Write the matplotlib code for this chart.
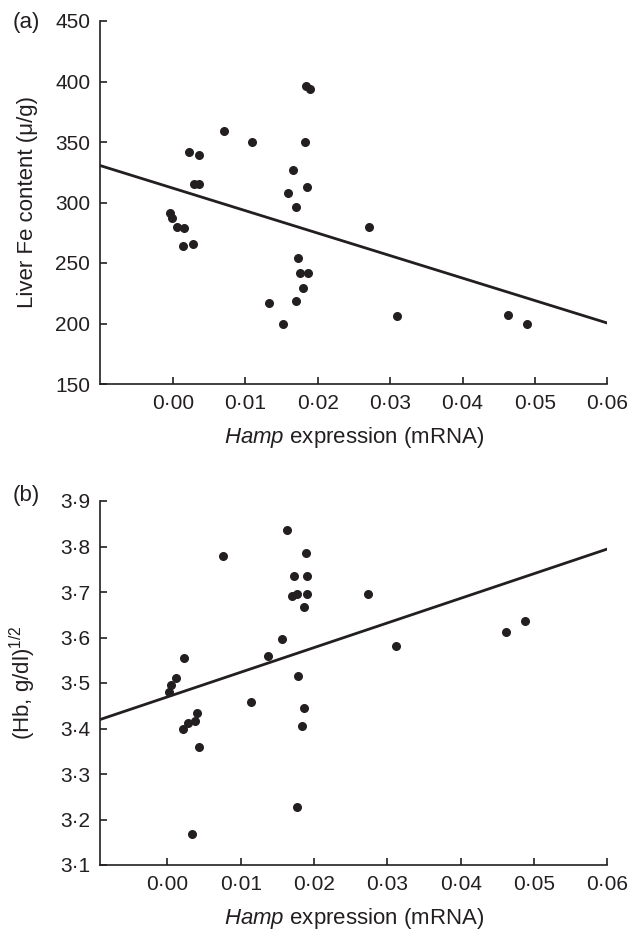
import numpy as np
import matplotlib
matplotlib.use("Agg")
import matplotlib.pyplot as plt
from matplotlib.ticker import FuncFormatter

plt.rcParams['font.family'] = ['Liberation Sans', 'DejaVu Sans']
plt.rcParams['mathtext.fontset'] = 'custom'
plt.rcParams['mathtext.rm'] = 'Liberation Sans'
plt.rcParams['mathtext.it'] = 'Liberation Sans:italic'

# ---------------------------------------------------------------------------
# Data
# ---------------------------------------------------------------------------
# (a) liver Fe content vs Hamp expression
hamp_a = [0.01842, 0.01897, 0.00698, 0.01095, 0.01819, 0.00214, 0.00357,
          0.01653, 0.00288, 0.00357, 0.01846, 0.01593, 0.01704, -0.00048,
          -0.00017, 0.00048, 0.00155, 0.02714, 0.00131, 0.00274, 0.01726,
          0.01750, 0.01864, 0.01791, 0.01699, 0.01325, 0.01524, 0.03091,
          0.04630, 0.04890]
liver_fe = [396, 394, 359, 350, 350, 342, 339, 327, 315, 315, 313, 308, 296,
            291, 287, 280, 279, 280, 264, 266, 254, 242, 242, 229, 219, 217,
            200, 206, 207, 200]
fit_a = (311.8, -1857.0)   # intercept, slope

# (b) sqrt(Hb) vs Hamp expression
hamp_b = [0.01637, 0.00764, 0.01892, 0.01733, 0.01906, 0.01697, 0.01765,
          0.01906, 0.02742, 0.01869, 0.01561, 0.03111, 0.00224, 0.01378,
          0.00123, 0.01787, 0.00055, 0.00019, 0.01146, 0.01861, 0.00409,
          0.00282, 0.00378, 0.00210, 0.01833, 0.00428, 0.01765, 0.00337,
          0.04617, 0.04876]
sqrt_hb = [3.836, 3.780, 3.786, 3.736, 3.736, 3.692, 3.696, 3.696, 3.696,
           3.666, 3.597, 3.581, 3.556, 3.559, 3.511, 3.516, 3.496, 3.480,
           3.459, 3.444, 3.433, 3.411, 3.416, 3.398, 3.405, 3.359, 3.228,
           3.168, 3.611, 3.636]
fit_b = (3.4695, 5.416)

x_ticks = [0.00, 0.01, 0.02, 0.03, 0.04, 0.05, 0.06]
y_ticks_a = [150, 200, 250, 300, 350, 400, 450]
y_ticks_b = [3.1, 3.2, 3.3, 3.4, 3.5, 3.6, 3.7, 3.8, 3.9]

TICK_FS = 15
LABEL_FS = 16
INK = "#231f20"
W, H = 640, 931


def dot_fmt(decimals):
    return FuncFormatter(lambda v, p: f"{v:.{decimals}f}".replace(".", "\u00b7"))


def style_axis(ax, xlim, ylim, yticks, ydec):
    for side in ("top", "right"):
        ax.spines[side].set_visible(False)
    for side in ("left", "bottom"):
        ax.spines[side].set_linewidth(1.2)
        ax.spines[side].set_color(INK)
    ax.set_xlim(*xlim)
    ax.set_ylim(*ylim)
    ax.set_xticks(x_ticks)
    ax.set_yticks(yticks)
    ax.xaxis.set_major_formatter(dot_fmt(2))
    ax.yaxis.set_major_formatter(dot_fmt(ydec))
    ax.tick_params(direction="in", length=5, width=1.2, colors=INK,
                   labelsize=TICK_FS, pad=7)
    ax.set_xlabel(r"$\it{Hamp}$ expression (mRNA)", fontsize=LABEL_FS,
                  color=INK, labelpad=9)


fig = plt.figure(figsize=(W / 100, H / 100), dpi=100)

# panel (a)
ax1 = fig.add_axes([100 / W, 1 - 384 / H, 507.3 / W, 363 / H])
style_axis(ax1, (-0.0101, 0.06), (150, 450), y_ticks_a, 0)
ax1.scatter(hamp_a, liver_fe, s=30, color=INK, zorder=3, clip_on=False)
xl = np.array(ax1.get_xlim())
ax1.plot(xl, fit_a[0] + fit_a[1] * xl, color=INK, lw=2.0)
ax1.set_ylabel("Liver Fe content (\u03bc/g)", fontsize=LABEL_FS, color=INK)
ax1.yaxis.set_label_coords(-0.122, 0.5)

# panel (b)
ax2 = fig.add_axes([100 / W, 1 - 865 / H, 507.3 / W, 364 / H])
style_axis(ax2, (-0.0092, 0.06), (3.1, 3.9), y_ticks_b, 1)
ax2.scatter(hamp_b, sqrt_hb, s=30, color=INK, zorder=3, clip_on=False)
xl = np.array(ax2.get_xlim())
ax2.plot(xl, fit_b[0] + fit_b[1] * xl, color=INK, lw=2.0)
ax2.set_ylabel(r"(Hb, g/dl)$^{1/2}$", fontsize=LABEL_FS, color=INK)
ax2.yaxis.set_label_coords(-0.122, 0.5)

fig.text(13 / W, 1 - 22.5 / H, "(a)", fontsize=LABEL_FS, color=INK,
         ha="left", va="center")
fig.text(13 / W, 1 - 496 / H, "(b)", fontsize=LABEL_FS, color=INK,
         ha="left", va="center")

fig.savefig("out.png", dpi=100)
